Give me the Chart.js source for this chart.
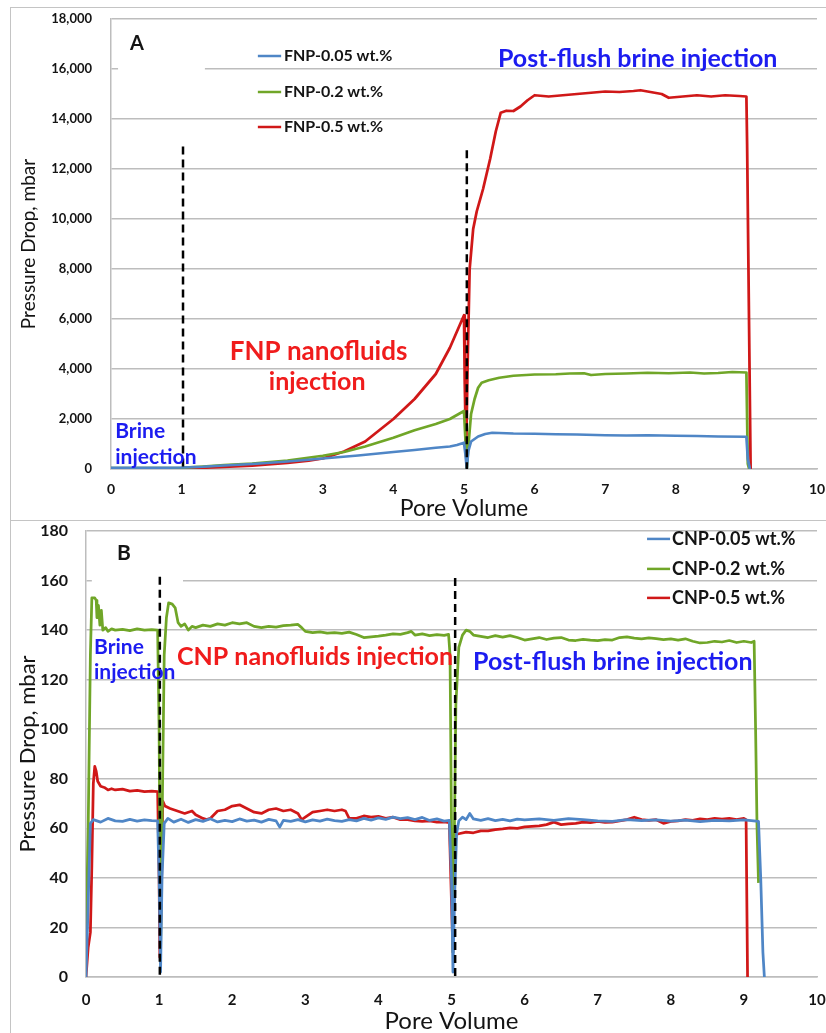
<!DOCTYPE html>
<html><head><meta charset="utf-8">
<script src="https://cdn.jsdelivr.net/npm/chart.js@4.4.1/dist/chart.umd.min.js"></script>
<style>
html,body{margin:0;padding:0;background:#fff;}
body{width:826px;height:1033px;position:relative;overflow:hidden;}
.frame{position:absolute;border:1.5px solid #c4c4c4;}
.wrap{position:absolute;left:0;width:826px;}
</style></head><body>
<div class="frame" style="left:10px;top:7px;width:840px;height:513px;border-bottom:none;"></div>
<div class="frame" style="left:10px;top:520px;width:840px;height:540px;"></div>
<div class="wrap" style="top:0;height:520px;"><canvas id="ca" width="826" height="520" style="width:826px;height:520px"></canvas></div>
<div class="wrap" style="top:520px;height:513px;"><canvas id="cb" width="826" height="513" style="width:826px;height:513px"></canvas></div>
<script>
// ---------- DATA ----------
const xTickLabels = [0,1,2,3,4,5,6,7,8,9,10];
const yTicksA = [0,2000,4000,6000,8000,10000,12000,14000,16000,18000];
const yTicksB = [0,20,40,60,80,100,120,140,160,180];

const seriesNamesA = ['FNP-0.05 wt.%','FNP-0.2 wt.%','FNP-0.5 wt.%'];
const seriesNamesB = ['CNP-0.05 wt.%','CNP-0.2 wt.%','CNP-0.5 wt.%'];

// Panel A: [pore volume, pressure drop mbar]
const fnp005 = [[0,40],[0.3,45],[0.6,50],[1.0,60],[1.3,90],[1.6,140],[2.0,200],[2.5,300],[3.0,420],[3.5,540],[4.0,680],[4.3,760],[4.6,850],[4.8,900],[4.9,960],[5.0,1050],[5.02,600],[5.04,20],[5.06,700],[5.1,1100],[5.2,1300],[5.3,1400],[5.4,1450],[5.5,1440],[5.7,1420],[6.0,1410],[6.3,1390],[6.6,1380],[7.0,1350],[7.3,1340],[7.6,1350],[8.0,1330],[8.3,1320],[8.6,1300],[9.0,1290],[9.02,400],[9.05,0]];
const fnp02 = [[0,30],[0.5,35],[1.0,50],[1.3,100],[1.6,160],[2.0,220],[2.5,340],[3.0,530],[3.3,680],[3.6,900],[4.0,1250],[4.3,1550],[4.6,1800],[4.8,2000],[5.0,2320],[5.02,1200],[5.04,30],[5.07,1200],[5.1,2200],[5.15,2800],[5.2,3250],[5.25,3450],[5.35,3550],[5.5,3650],[5.7,3730],[6.0,3780],[6.3,3790],[6.5,3820],[6.7,3830],[6.8,3760],[7.0,3800],[7.3,3820],[7.6,3850],[7.9,3830],[8.2,3860],[8.4,3820],[8.6,3840],[8.8,3880],[9.0,3860],[9.02,200],[9.04,0]];
const fnp05 = [[0,20],[0.5,25],[1.0,30],[1.3,50],[1.6,80],[2.0,130],[2.5,240],[2.8,330],[3.0,420],[3.3,700],[3.6,1100],[4.0,2000],[4.3,2800],[4.6,3800],[4.8,4850],[4.9,5500],[5.0,6150],[5.01,3500],[5.03,500],[5.05,4000],[5.08,8000],[5.13,9600],[5.18,10300],[5.27,11200],[5.37,12400],[5.45,13500],[5.52,14250],[5.6,14330],[5.7,14320],[5.8,14500],[5.9,14750],[6.0,14950],[6.2,14900],[6.4,14950],[6.6,15000],[6.8,15050],[7.0,15100],[7.2,15080],[7.4,15120],[7.5,15150],[7.6,15100],[7.8,15000],[7.9,14850],[8.1,14900],[8.3,14950],[8.5,14900],[8.7,14950],[8.9,14920],[9.0,14900],[9.01,13000],[9.06,0]];

// Panel B: [pore volume, pressure drop mbar]
const cnp005 = [[0,0],[0.03,30],[0.06,62],[0.1,63.5],[0.2,62.5],[0.3,64],[0.4,63],[0.5,62.8],[0.6,63.6],[0.7,62.9],[0.8,63.4],[0.9,63.1],[0.98,63],[1.0,40],[1.02,2],[1.04,40],[1.07,62],[1.12,64],[1.2,62.5],[1.3,63.7],[1.4,62.4],[1.5,63.5],[1.6,62.8],[1.7,63.9],[1.8,62.6],[1.9,63.2],[2.0,62.7],[2.1,63.8],[2.2,62.9],[2.3,63.3],[2.4,62.5],[2.5,63.6],[2.6,63.0],[2.65,60.5],[2.7,63.2],[2.8,62.8],[2.9,63.5],[3.0,62.6],[3.1,63.4],[3.2,62.9],[3.3,63.7],[3.4,63.1],[3.5,62.8],[3.6,63.5],[3.7,63.0],[3.8,64.0],[3.9,63.3],[4.0,64.2],[4.1,63.6],[4.2,64.5],[4.3,63.9],[4.4,64.3],[4.5,63.5],[4.6,64.4],[4.7,63.2],[4.8,63.8],[4.9,62.9],[4.97,63.2],[5.0,40],[5.02,2],[5.04,30],[5.07,58],[5.1,63],[5.15,64.5],[5.2,63.5],[5.25,66],[5.3,63.8],[5.4,63.2],[5.5,63.9],[5.6,63.1],[5.7,63.6],[5.8,63.0],[5.9,63.7],[6.0,63.4],[6.2,63.8],[6.4,63.2],[6.6,63.9],[6.8,63.5],[7.0,63.0],[7.2,62.8],[7.4,63.5],[7.6,63.1],[7.8,63.4],[8.0,62.9],[8.2,63.3],[8.4,62.7],[8.6,63.2],[8.8,63.0],[9.0,63.4],[9.1,63.1],[9.2,62.8],[9.23,40],[9.26,10],[9.28,0]];
const cnp02 = [[0,15],[0.03,60],[0.06,130],[0.08,153],[0.12,153],[0.14,152],[0.15,145],[0.17,150],[0.19,142],[0.21,148],[0.23,140],[0.27,141],[0.3,139.5],[0.35,140.5],[0.4,140],[0.5,140.3],[0.6,139.8],[0.7,140.5],[0.8,140],[0.9,140.2],[0.98,140],[1.0,100],[1.02,10],[1.04,60],[1.07,130],[1.1,145],[1.13,151],[1.18,150.5],[1.22,149],[1.26,143],[1.3,141.5],[1.35,142.5],[1.4,140],[1.45,141.5],[1.5,141],[1.6,142],[1.7,141.5],[1.8,142.5],[1.9,142],[2.0,143],[2.1,142.5],[2.2,143],[2.3,141.5],[2.4,141],[2.5,141.5],[2.6,141.2],[2.7,141.8],[2.8,142],[2.9,142.3],[2.95,141],[3.0,139.5],[3.1,139],[3.2,139.3],[3.3,138.8],[3.4,139],[3.5,138.7],[3.6,139.2],[3.7,138.2],[3.8,137],[3.9,137.3],[4.0,137.6],[4.1,138],[4.2,138.5],[4.3,138.3],[4.4,139],[4.45,139.5],[4.5,138],[4.6,138.5],[4.7,137.8],[4.8,138.2],[4.9,137.9],[4.96,138.3],[4.98,130],[5.0,60],[5.02,10],[5.04,60],[5.06,110],[5.1,133],[5.15,138],[5.2,140],[5.25,139.5],[5.3,138],[5.4,137.5],[5.5,137],[5.6,137.8],[5.7,137.2],[5.8,137.8],[5.9,137],[6.0,136],[6.1,136.5],[6.2,137],[6.3,136.2],[6.4,136.8],[6.5,137],[6.6,136],[6.7,135.8],[6.8,136.3],[6.9,136],[7.0,135.8],[7.1,136.2],[7.2,136],[7.3,137],[7.4,137.3],[7.5,136.8],[7.6,136.5],[7.7,136.9],[7.8,136.6],[7.9,136.2],[8.0,136.5],[8.1,136],[8.2,136.5],[8.3,135.5],[8.4,134.8],[8.5,135],[8.6,135.5],[8.7,135.2],[8.8,135.8],[8.9,135],[9.0,135.5],[9.1,135],[9.14,135.5],[9.16,100],[9.18,60],[9.2,38]];
const cnp05 = [[0,0],[0.03,12],[0.06,18],[0.08,45],[0.1,78],[0.12,85],[0.14,83],[0.16,79],[0.2,77],[0.25,76.5],[0.3,75.5],[0.35,76],[0.4,75.5],[0.5,75.8],[0.6,75],[0.7,75.3],[0.8,74.8],[0.9,75],[0.98,74.8],[1.0,40],[1.01,8],[1.03,30],[1.05,71],[1.08,69],[1.15,68],[1.25,67],[1.35,66],[1.45,67],[1.5,65.5],[1.6,64],[1.65,63.5],[1.7,64],[1.8,67],[1.9,67.5],[2.0,69],[2.1,69.5],[2.2,68],[2.3,66.5],[2.4,66],[2.5,67.5],[2.6,68],[2.7,67],[2.8,67.5],[2.9,66],[2.95,63.5],[3.0,64.5],[3.1,66.5],[3.2,67],[3.3,67.5],[3.4,67],[3.5,67.5],[3.55,67],[3.6,64],[3.7,64],[3.8,65],[3.9,64.5],[4.0,64.8],[4.1,64],[4.2,64.5],[4.3,63.5],[4.4,63.5],[4.5,63],[4.6,62.8],[4.7,63],[4.8,62.5],[4.9,62.6],[4.97,62.3],[5.0,30],[5.02,10],[5.04,40],[5.06,57.5],[5.1,57.8],[5.2,58.5],[5.3,58.2],[5.4,59],[5.5,59],[5.6,59.5],[5.7,59.8],[5.8,60.2],[5.9,60],[6.0,60.6],[6.1,60.8],[6.2,61],[6.3,61.5],[6.4,62.5],[6.5,61.5],[6.6,61.8],[6.7,62],[6.8,62.5],[6.9,62.3],[7.0,62.8],[7.1,62.4],[7.2,62.5],[7.3,63],[7.4,63.5],[7.5,64.5],[7.6,63.5],[7.7,63.2],[7.8,63.5],[7.9,62],[8.0,62.8],[8.1,63],[8.2,63.5],[8.3,63.2],[8.4,63.8],[8.5,63.5],[8.6,64],[8.7,63.7],[8.8,64],[8.9,63.5],[9.0,64],[9.03,63.5],[9.05,0]];

// phase boundaries (dashed markers): [x, top value]
const dashA = [[1.02,12900],[5.04,12750]];
const dashB = [[1.01,161.5],[5.05,161]];

// ---------- STYLE ----------
const BLUE='#4f86c6', GREEN='#70a628', RED='#d01818';
const TXT_BLUE='#1c1cf0', TXT_RED='#f01c1c', INK='#141414', GRID='#bdbdbd';
const FONT='Lato, "Open Sans", sans-serif';

function ds(label, pts, color){
  return {label, data: pts.map(p=>({x:p[0],y:p[1]})), borderColor:color, backgroundColor:color,
    borderWidth:2.75, pointRadius:0, tension:0, fill:false, borderJoinStyle:'round'};
}

function overlay(cfg){
  return {
    id:'overlay',
    beforeDatasetsDraw(chart){
      const {ctx, scales:{x,y}} = chart;
      ctx.save(); ctx.fillStyle='#fff';
      cfg.boxes.forEach(b=>{
        const x0=x.getPixelForValue(b[0]), x1=x.getPixelForValue(b[1]);
        const y0=y.getPixelForValue(b[2]), y1=y.getPixelForValue(b[3]);
        ctx.fillRect(Math.min(x0,x1),Math.min(y0,y1),Math.abs(x1-x0),Math.abs(y1-y0));
      });
      ctx.restore();
    },
    afterDatasetsDraw(chart){
      const {ctx, scales:{x,y}} = chart;
      ctx.save();
      ctx.strokeStyle='#000'; ctx.lineWidth=2.5; ctx.setLineDash([8,5]);
      cfg.dashes.forEach(d=>{
        const px=x.getPixelForValue(d[0]);
        ctx.beginPath(); ctx.moveTo(px,y.getPixelForValue(d[1])); ctx.lineTo(px,y.getPixelForValue(0)); ctx.stroke();
      });
      ctx.setLineDash([]);
      ctx.textBaseline='middle';
      cfg.texts.forEach(t=>{
        ctx.font=`bold ${t.size}px ${FONT}`; ctx.fillStyle=t.color; ctx.textAlign=t.align||'left';
        ctx.fillText(t.text, x.getPixelForValue(t.x), y.getPixelForValue(t.y));
      });
      const L=cfg.legend;
      ctx.font=`bold ${L.size}px ${FONT}`; ctx.textAlign='left';
      chart.data.datasets.forEach((d,i)=>{
        const py=y.getPixelForValue(L.rows[i]);
        ctx.strokeStyle=d.borderColor; ctx.lineWidth=2.5;
        ctx.beginPath(); ctx.moveTo(x.getPixelForValue(L.x0),py); ctx.lineTo(x.getPixelForValue(L.x1),py); ctx.stroke();
        ctx.fillStyle=INK; ctx.fillText(d.label, x.getPixelForValue(L.tx), py);
      });
      ctx.restore();
    }
  };
}

function makeOptions(o){
  return {
    responsive:false, animation:false, events:[],
    layout:{padding:{top:o.padTop,right:o.padRight,left:0,bottom:0},autoPadding:false},
    plugins:{legend:{display:false},tooltip:{enabled:false}},
    scales:{
      x:{type:'linear',min:0,max:10,
        afterBuildTicks:s=>{s.ticks=xTickLabels.map(v=>({value:v}));},
        afterFit:s=>{s.height=o.xH; s.paddingLeft=0; s.paddingRight=0;},
        grid:{display:false,drawTicks:false},
        border:{display:true,color:GRID,width:1.5},
        ticks:{color:INK,padding:o.xTickPad,maxRotation:0,autoSkip:false,font:{family:FONT,size:o.xTickSize,weight:'bold'}},
        title:{display:true,text:'Pore Volume',color:INK,padding:{top:0,bottom:0},font:{family:FONT,size:o.xTitleSize,lineHeight:1}}
      },
      y:{type:'linear',min:0,max:o.yMax,
        afterBuildTicks:s=>{s.ticks=o.yTicks.map(v=>({value:v}));},
        afterFit:s=>{s.width=o.yW; s.paddingTop=0; s.paddingBottom=0;},
        grid:{color:GRID,lineWidth:1.5,drawTicks:false},
        border:{display:true,color:GRID,width:1.5},
        ticks:{color:INK,padding:o.yTickPad,autoSkip:false,font:{family:FONT,size:o.yTickSize,weight:'bold'},
          callback:v=>Number(v).toLocaleString('en-US')},
        title:{display:true,text:'Pressure Drop, mbar',color:INK,padding:{top:o.yTitlePad,bottom:0},font:{family:FONT,size:o.yTitleSize}}
      }
    }
  };
}

new Chart(document.getElementById('ca'),{
  type:'line',
  data:{datasets:[ds(seriesNamesA[0],fnp005,BLUE),ds(seriesNamesA[1],fnp02,GREEN),ds(seriesNamesA[2],fnp05,RED)]},
  options:makeOptions({padTop:19,padRight:9,xH:51,yW:111,xTickPad:12,xTickSize:14,xTitleSize:23,
    yMax:18000,yTicks:yTicksA,yTickPad:19,yTickSize:13,yTitlePad:17,yTitleSize:19}),
  plugins:[overlay({
    boxes:[[0.1,1.33,17700,14500]],
    dashes:dashA,
    texts:[
      {text:'A',x:0.27,y:17000,size:20,color:INK},
      {text:'Post-flush brine injection',x:5.48,y:16400,size:25,color:TXT_BLUE},
      {text:'FNP nanofluids',x:2.94,y:4680,size:26,color:TXT_RED,align:'center'},
      {text:'injection',x:2.92,y:3480,size:25,color:TXT_RED,align:'center'},
      {text:'Brine',x:0.06,y:1520,size:21,color:TXT_BLUE},
      {text:'injection',x:0.06,y:480,size:21,color:TXT_BLUE}
    ],
    legend:{x0:2.08,x1:2.41,tx:2.45,rows:[16520,15080,13680],size:16}
  })]
});

new Chart(document.getElementById('cb'),{
  type:'line',
  data:{datasets:[ds(seriesNamesB[0],cnp005,BLUE),ds(seriesNamesB[1],cnp02,GREEN),ds(seriesNamesB[2],cnp05,RED)]},
  options:makeOptions({padTop:11,padRight:9,xH:56,yW:86,xTickPad:14,xTickSize:15,xTitleSize:24,
    yMax:180,yTicks:yTicksB,yTickPad:18,yTickSize:16,yTitlePad:15,yTitleSize:22}),
  plugins:[overlay({
    boxes:[[0.08,1.327,176.4,156.2]],
    dashes:dashB,
    texts:[
      {text:'B',x:0.424,y:171.1,size:21,color:INK},
      {text:'Brine',x:0.11,y:133.2,size:21,color:TXT_BLUE},
      {text:'injection',x:0.11,y:123.1,size:21,color:TXT_BLUE},
      {text:'CNP nanofluids injection',x:1.245,y:129.2,size:25,color:TXT_RED},
      {text:'Post-flush brine injection',x:5.294,y:127.1,size:25,color:TXT_BLUE}
    ],
    legend:{x0:7.675,x1:7.99,tx:8.016,rows:[176.8,164.7,153],size:18}
  })]
});
</script>
</body></html>
